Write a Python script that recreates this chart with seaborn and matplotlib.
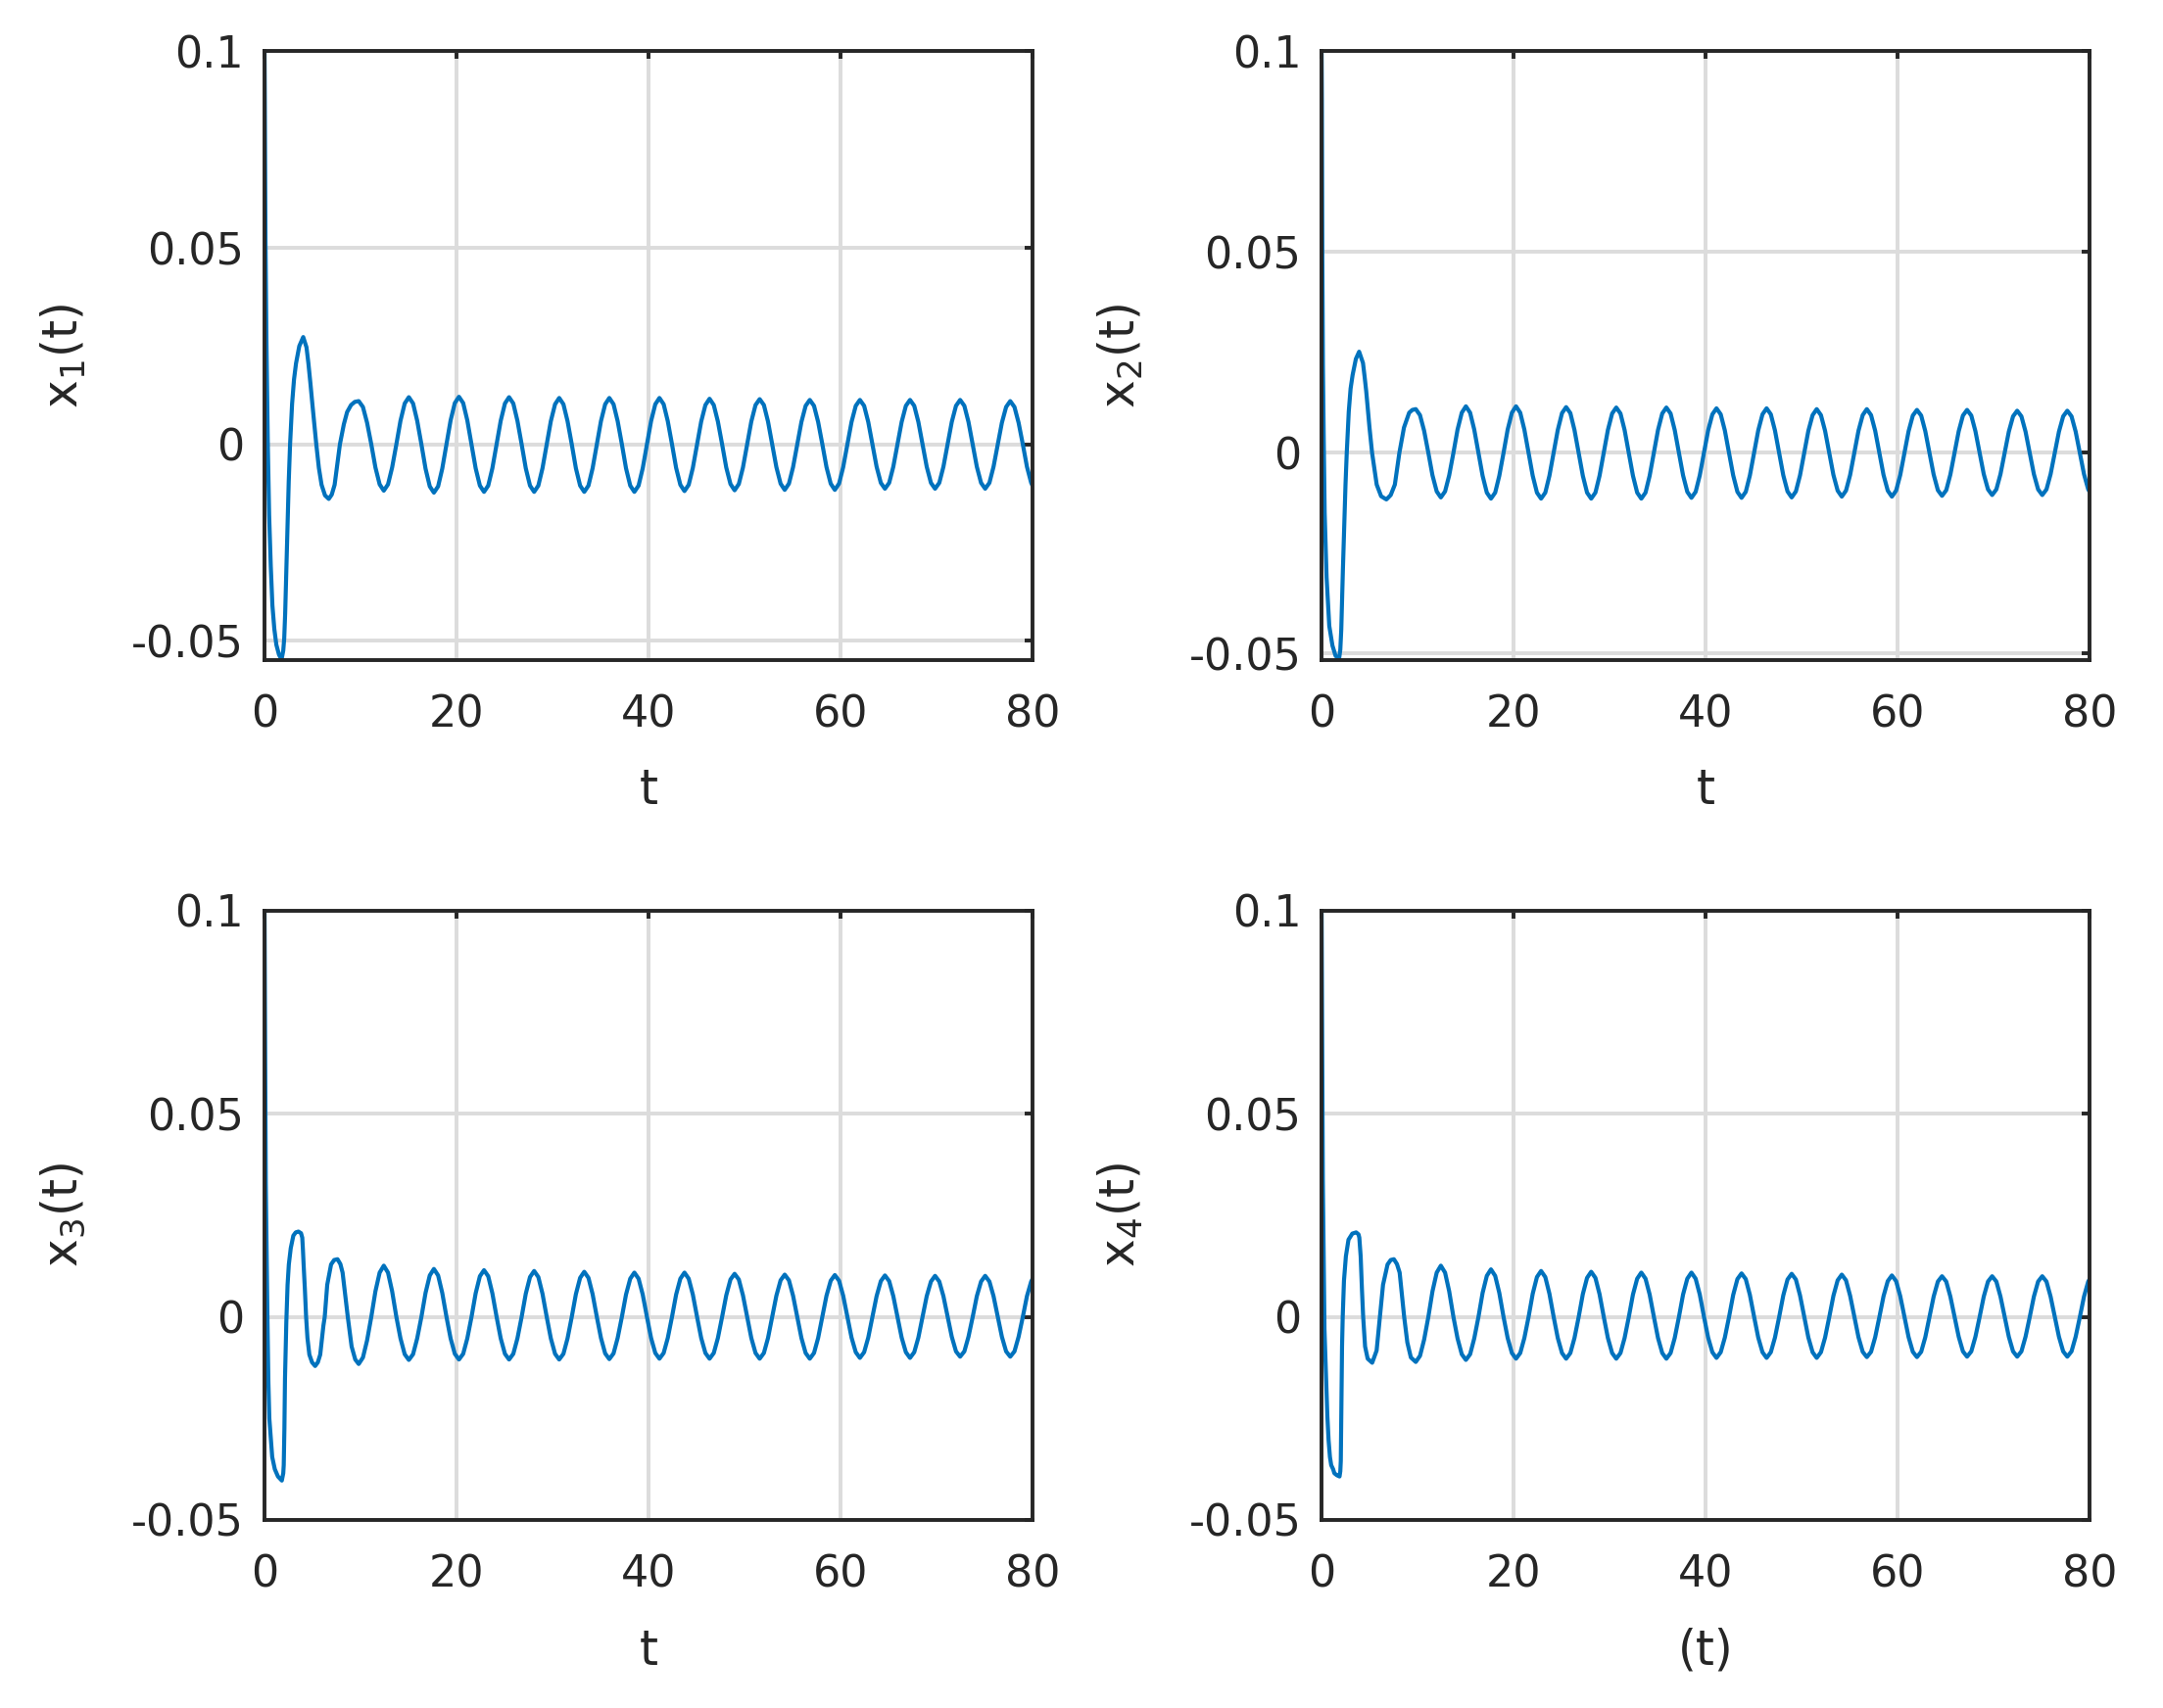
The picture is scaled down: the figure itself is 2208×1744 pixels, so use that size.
import pandas as pd
import seaborn as sns
import matplotlib
matplotlib.use('Agg')
import matplotlib.pyplot as plt

# start-up transient of each state (t, value)
t1_start = [0, 0.03, 0.10, 0.20, 0.34, 0.48, 0.65, 0.82, 1.02, 1.23, 1.50, 1.77, 1.95, 2.05,
            2.15, 2.27, 2.39, 2.52, 2.66, 2.87, 3.07, 3.28, 3.62, 4.03, 4.37, 4.57, 4.78, 4.98,
            5.39, 5.66, 5.94, 6.30, 6.69, 7.00, 7.30, 7.85, 8.26, 8.60, 9.01, 9.40]
x1_start = [0.1, 0.088, 0.052, 0.026, 0.0, -0.018, -0.031, -0.041, -0.047, -0.051, -0.0535,
            -0.0548, -0.0525, -0.0494, -0.0430, -0.032, -0.0206, -0.0095, 0.0, 0.0103, 0.0165,
            0.0206, 0.0250, 0.0273, 0.0247, 0.0206, 0.0155, 0.0103, 0.0, -0.0060, -0.0103,
            -0.0130, -0.0139, -0.0128, -0.0103, 0.0, 0.0051, 0.0082, 0.0100, 0.0108]

t2_start = [0, 0.03, 0.08, 0.14, 0.22, 0.32, 0.52, 0.80, 1.13, 1.45, 1.81, 1.95, 2.05, 2.22,
            2.37, 2.49, 2.62, 2.83, 3.02, 3.23, 3.57, 3.91, 4.31, 4.48, 4.65, 4.99, 5.26, 5.74,
            6.20, 6.75, 7.20, 7.63, 8.10, 8.58, 9.12, 9.45]
x2_start = [0.1, 0.088, 0.048, 0.022, 0.004, -0.0149, -0.031, -0.0431, -0.0480, -0.0505,
            -0.0515, -0.0490, -0.0440, -0.029, -0.017, -0.0079, 0.0, 0.0103, 0.0160, 0.0194,
            0.0234, 0.0252, 0.0224, 0.0190, 0.0153, 0.0063, 0.0, -0.0079, -0.0108, -0.0116,
            -0.0105, -0.0079, 0.0, 0.0063, 0.0100, 0.0107]

t3_start = [0, 0.03, 0.13, 0.22, 0.30, 0.40, 0.50, 0.67, 0.80, 1.07, 1.40, 1.80, 1.95, 2.00,
            2.07, 2.13, 2.27, 2.40, 2.53, 2.73, 3.00, 3.25, 3.53, 3.80, 3.93, 4.00, 4.07, 4.20,
            4.33, 4.47, 4.67, 4.95, 5.27, 5.55, 5.80, 6.13, 6.27, 6.53, 6.93, 7.25, 7.60, 7.90,
            8.13, 8.40, 8.67, 9.07, 9.45]
x3_start = [0.1, 0.085, 0.033, 0.015, 0.0, -0.016, -0.025, -0.0304, -0.0345, -0.0375, -0.0393,
            -0.0403, -0.0385, -0.0365, -0.0274, -0.0153, -0.0012, 0.0079, 0.0129, 0.0169, 0.0200,
            0.0208, 0.0210, 0.0206, 0.0195, 0.0165, 0.0129, 0.0069, 0.0, -0.0052, -0.0093,
            -0.0112, -0.0121, -0.0112, -0.0093, -0.0022, 0.0, 0.0079, 0.0129, 0.0140, 0.0142,
            0.0130, 0.0109, 0.0055, 0.0, -0.0073, -0.0105]

t4_start = [0, 0.03, 0.13, 0.23, 0.30, 0.43, 0.53, 0.60, 0.73, 0.87, 1.00, 1.20, 1.33, 1.60,
            1.87, 1.95, 2.00, 2.07, 2.13, 2.20, 2.33, 2.53, 2.80, 3.20, 3.60, 3.85, 3.93, 4.00,
            4.07, 4.20, 4.33, 4.53, 4.80, 5.27, 5.73, 6.07, 6.40, 6.87, 7.20, 7.53, 7.85, 8.13,
            8.60, 8.93, 9.30]
x4_start = [0.1, 0.085, 0.034, 0.012, -0.003, -0.0123, -0.0188, -0.0244, -0.0304, -0.0345,
            -0.0365, -0.0375, -0.0385, -0.0390, -0.0393, -0.0380, -0.0355, -0.0214, -0.0073, 0.0,
            0.0089, 0.0149, 0.0190, 0.0205, 0.0208, 0.0203, 0.0195, 0.0170, 0.0149, 0.0069, 0.0,
            -0.0073, -0.0103, -0.0113, -0.0083, 0.0, 0.0079, 0.0129, 0.0140, 0.0142, 0.0130,
            0.0109, 0.0, -0.0063, -0.0100]

# sustained oscillation after t ~ 9.8, sampled at the same times in every panel
t_osc = [9.81, 10.25, 10.68, 11.12, 11.55, 11.99, 12.42, 12.86, 13.29, 13.73, 14.16, 14.60,
         15.03, 15.47, 15.90, 16.34, 16.77, 17.21, 17.64, 18.08, 18.51, 18.95, 19.38, 19.82,
         20.25, 20.69, 21.12, 21.56, 21.99, 22.43, 22.86, 23.30, 23.73, 24.17, 24.60, 25.04,
         25.47, 25.91, 26.34, 26.78, 27.21, 27.65, 28.08, 28.52, 28.95, 29.39, 29.82, 30.26,
         30.69, 31.13, 31.56, 32.00, 32.43, 32.87, 33.30, 33.74, 34.17, 34.61, 35.04, 35.48,
         35.91, 36.35, 36.78, 37.22, 37.65, 38.09, 38.52, 38.96, 39.39, 39.83, 40.26, 40.70,
         41.13, 41.57, 42.00, 42.44, 42.87, 43.31, 43.74, 44.18, 44.61, 45.05, 45.48, 45.92,
         46.35, 46.79, 47.22, 47.66, 48.09, 48.53, 48.96, 49.40, 49.83, 50.27, 50.70, 51.14,
         51.57, 52.01, 52.44, 52.88, 53.31, 53.75, 54.18, 54.62, 55.05, 55.49, 55.92, 56.36,
         56.79, 57.23, 57.66, 58.10, 58.53, 58.97, 59.40, 59.84, 60.27, 60.71, 61.14, 61.58,
         62.01, 62.45, 62.88, 63.32, 63.75, 64.19, 64.62, 65.06, 65.49, 65.93, 66.36, 66.80,
         67.23, 67.67, 68.10, 68.54, 68.97, 69.41, 69.84, 70.28, 70.71, 71.15, 71.58, 72.02,
         72.45, 72.89, 73.32, 73.76, 74.19, 74.63, 75.06, 75.50, 75.93, 76.37, 76.80, 77.24,
         77.67, 78.11, 78.54, 78.98, 79.41, 79.85, 80.00]

x1_osc = [0.0110, 0.0095, 0.0055, 0.0, -0.0059, -0.0102, -0.0118, -0.0102, -0.0059, 0.0, 0.0060, 0.0104,
          0.0120, 0.0104, 0.0060, 0.0, -0.0062, -0.0107, -0.0123, -0.0107, -0.0062, 0.0, 0.0061, 0.0105,
          0.0121, 0.0105, 0.0061, 0.0, -0.0061, -0.0105, -0.0121, -0.0105, -0.0061, 0.0, 0.0060, 0.0104,
          0.0120, 0.0104, 0.0060, 0.0, -0.0061, -0.0105, -0.0121, -0.0105, -0.0061, 0.0, 0.0059, 0.0102,
          0.0118, 0.0102, 0.0059, 0.0, -0.0061, -0.0105, -0.0121, -0.0105, -0.0061, 0.0, 0.0059, 0.0102,
          0.0118, 0.0102, 0.0059, 0.0, -0.0061, -0.0105, -0.0121, -0.0105, -0.0061, 0.0, 0.0059, 0.0102,
          0.0118, 0.0102, 0.0059, 0.0, -0.0060, -0.0103, -0.0119, -0.0103, -0.0060, 0.0, 0.0058, 0.0100,
          0.0116, 0.0100, 0.0058, 0.0, -0.0059, -0.0101, -0.0117, -0.0101, -0.0059, 0.0, 0.0058, 0.0100,
          0.0115, 0.0100, 0.0058, 0.0, -0.0058, -0.0100, -0.0116, -0.0100, -0.0058, 0.0, 0.0057, 0.0098,
          0.0113, 0.0098, 0.0057, 0.0, -0.0058, -0.0100, -0.0116, -0.0100, -0.0058, 0.0, 0.0057, 0.0098,
          0.0113, 0.0098, 0.0057, 0.0, -0.0057, -0.0098, -0.0113, -0.0098, -0.0057, 0.0, 0.0057, 0.0098,
          0.0113, 0.0098, 0.0057, 0.0, -0.0057, -0.0098, -0.0113, -0.0098, -0.0057, 0.0, 0.0057, 0.0098,
          0.0113, 0.0098, 0.0057, 0.0, -0.0057, -0.0098, -0.0113, -0.0098, -0.0057, 0.0, 0.0055, 0.0095,
          0.0110, 0.0095, 0.0055, 0.0, -0.0057, -0.0098, -0.0106]

x2_osc = [0.0109, 0.0094, 0.0055, 0.0, -0.0056, -0.0096, -0.0111, -0.0096, -0.0056, 0.0, 0.0058, 0.0100,
          0.0116, 0.0100, 0.0058, 0.0, -0.0057, -0.0099, -0.0114, -0.0099, -0.0057, 0.0, 0.0058, 0.0100,
          0.0116, 0.0100, 0.0058, 0.0, -0.0057, -0.0099, -0.0114, -0.0099, -0.0057, 0.0, 0.0057, 0.0099,
          0.0114, 0.0099, 0.0057, 0.0, -0.0057, -0.0099, -0.0114, -0.0099, -0.0057, 0.0, 0.0057, 0.0098,
          0.0113, 0.0098, 0.0057, 0.0, -0.0057, -0.0099, -0.0114, -0.0099, -0.0057, 0.0, 0.0057, 0.0098,
          0.0113, 0.0098, 0.0057, 0.0, -0.0056, -0.0097, -0.0112, -0.0097, -0.0056, 0.0, 0.0056, 0.0096,
          0.0111, 0.0096, 0.0056, 0.0, -0.0056, -0.0097, -0.0112, -0.0097, -0.0056, 0.0, 0.0056, 0.0096,
          0.0111, 0.0096, 0.0056, 0.0, -0.0056, -0.0096, -0.0111, -0.0096, -0.0056, 0.0, 0.0055, 0.0094,
          0.0109, 0.0094, 0.0055, 0.0, -0.0055, -0.0094, -0.0109, -0.0094, -0.0055, 0.0, 0.0055, 0.0094,
          0.0109, 0.0094, 0.0055, 0.0, -0.0055, -0.0094, -0.0109, -0.0094, -0.0055, 0.0, 0.0054, 0.0093,
          0.0107, 0.0093, 0.0054, 0.0, -0.0054, -0.0093, -0.0107, -0.0093, -0.0054, 0.0, 0.0054, 0.0093,
          0.0107, 0.0093, 0.0054, 0.0, -0.0053, -0.0091, -0.0105, -0.0091, -0.0053, 0.0, 0.0053, 0.0091,
          0.0105, 0.0091, 0.0053, 0.0, -0.0053, -0.0091, -0.0105, -0.0091, -0.0053, 0.0, 0.0053, 0.0091,
          0.0105, 0.0091, 0.0053, 0.0, -0.0053, -0.0091, -0.0097]

x3_osc = [-0.0116, -0.0100, -0.0058, 0.0, 0.0063, 0.0109, 0.0126, 0.0109, 0.0063, 0.0, -0.0053, -0.0092,
          -0.0106, -0.0092, -0.0053, 0.0, 0.0059, 0.0102, 0.0118, 0.0102, 0.0059, 0.0, -0.0053, -0.0091,
          -0.0105, -0.0091, -0.0053, 0.0, 0.0058, 0.0100, 0.0115, 0.0100, 0.0058, 0.0, -0.0053, -0.0091,
          -0.0105, -0.0091, -0.0053, 0.0, 0.0057, 0.0098, 0.0113, 0.0098, 0.0057, 0.0, -0.0053, -0.0091,
          -0.0105, -0.0091, -0.0053, 0.0, 0.0056, 0.0096, 0.0111, 0.0096, 0.0056, 0.0, -0.0052, -0.0090,
          -0.0104, -0.0090, -0.0052, 0.0, 0.0055, 0.0094, 0.0109, 0.0094, 0.0055, 0.0, -0.0052, -0.0089,
          -0.0103, -0.0089, -0.0052, 0.0, 0.0055, 0.0094, 0.0109, 0.0094, 0.0055, 0.0, -0.0052, -0.0089,
          -0.0103, -0.0089, -0.0052, 0.0, 0.0053, 0.0092, 0.0106, 0.0092, 0.0053, 0.0, -0.0052, -0.0089,
          -0.0103, -0.0089, -0.0052, 0.0, 0.0052, 0.0090, 0.0104, 0.0090, 0.0052, 0.0, -0.0052, -0.0089,
          -0.0103, -0.0089, -0.0052, 0.0, 0.0052, 0.0089, 0.0103, 0.0089, 0.0052, 0.0, -0.0051, -0.0087,
          -0.0101, -0.0087, -0.0051, 0.0, 0.0051, 0.0088, 0.0102, 0.0088, 0.0051, 0.0, -0.0051, -0.0087,
          -0.0101, -0.0087, -0.0051, 0.0, 0.0051, 0.0087, 0.0101, 0.0087, 0.0051, 0.0, -0.0049, -0.0085,
          -0.0098, -0.0085, -0.0049, 0.0, 0.0051, 0.0087, 0.0101, 0.0087, 0.0051, 0.0, -0.0049, -0.0085,
          -0.0098, -0.0085, -0.0049, 0.0, 0.0051, 0.0087, 0.0094]

x4_osc = [-0.0111, -0.0096, -0.0056, 0.0, 0.0063, 0.0109, 0.0126, 0.0109, 0.0063, 0.0, -0.0053, -0.0092,
          -0.0106, -0.0092, -0.0053, 0.0, 0.0059, 0.0101, 0.0117, 0.0101, 0.0059, 0.0, -0.0052, -0.0089,
          -0.0103, -0.0089, -0.0052, 0.0, 0.0057, 0.0098, 0.0113, 0.0098, 0.0057, 0.0, -0.0052, -0.0089,
          -0.0103, -0.0089, -0.0052, 0.0, 0.0056, 0.0096, 0.0111, 0.0096, 0.0056, 0.0, -0.0052, -0.0089,
          -0.0103, -0.0089, -0.0052, 0.0, 0.0055, 0.0094, 0.0109, 0.0094, 0.0055, 0.0, -0.0052, -0.0089,
          -0.0103, -0.0089, -0.0052, 0.0, 0.0055, 0.0094, 0.0109, 0.0094, 0.0055, 0.0, -0.0051, -0.0087,
          -0.0101, -0.0087, -0.0051, 0.0, 0.0054, 0.0093, 0.0107, 0.0093, 0.0054, 0.0, -0.0051, -0.0087,
          -0.0101, -0.0087, -0.0051, 0.0, 0.0053, 0.0092, 0.0106, 0.0092, 0.0053, 0.0, -0.0051, -0.0087,
          -0.0101, -0.0087, -0.0051, 0.0, 0.0052, 0.0090, 0.0104, 0.0090, 0.0052, 0.0, -0.0050, -0.0086,
          -0.0099, -0.0086, -0.0050, 0.0, 0.0051, 0.0088, 0.0102, 0.0088, 0.0051, 0.0, -0.0050, -0.0086,
          -0.0099, -0.0086, -0.0050, 0.0, 0.0050, 0.0087, 0.0100, 0.0087, 0.0050, 0.0, -0.0049, -0.0085,
          -0.0098, -0.0085, -0.0049, 0.0, 0.0050, 0.0087, 0.0100, 0.0087, 0.0050, 0.0, -0.0049, -0.0085,
          -0.0098, -0.0085, -0.0049, 0.0, 0.0050, 0.0087, 0.0100, 0.0087, 0.0050, 0.0, -0.0049, -0.0085,
          -0.0098, -0.0085, -0.0049, 0.0, 0.0050, 0.0087, 0.0093]

ylabels = [r'x$_1$(t)', r'x$_2$(t)', r'x$_3$(t)', r'x$_4$(t)']
xlabels = ['t', 't', 't', '(t)']
xticks = [0, 20, 40, 60, 80]
yticks = [-0.05, 0, 0.05, 0.1]
ytick_labels = ['-0.05', '0', '0.05', '0.1']

#style, matlab-like
sns.set_theme(style='white')
plt.rcParams['font.family'] = ['DejaVu Sans']
plt.rcParams['mathtext.fontset'] = 'dejavusans'
dark = '#262626'
blue = '#0072bd'

fig = plt.figure(figsize=(11.04, 8.72), dpi=200)

starts = [(t1_start, x1_start), (t2_start, x2_start), (t3_start, x3_start), (t4_start, x4_start)]
osc = [x1_osc, x2_osc, x3_osc, x4_osc]
rects = [[0.1223, 0.6138, 0.3551, 0.3561], [0.6110, 0.6138, 0.3551, 0.3561],
         [0.1223, 0.1101, 0.3551, 0.3567], [0.6110, 0.1101, 0.3551, 0.3567]]

for i in range(4):
    ax = fig.add_axes(rects[i])
    df = pd.DataFrame({'t': starts[i][0] + t_osc, 'x': starts[i][1] + osc[i]})
    sns.lineplot(data=df, x='t', y='x', ax=ax, color=blue, linewidth=1.5,
                 estimator=None, sort=False)

    ax.set_xlim(0, 80)
    #top rows are drawn tight to the data minimum, bottom rows use -0.05
    if i < 2:
        ax.set_ylim(df['x'].min(), 0.1)
    else:
        ax.set_ylim(-0.05, 0.1)
    ax.set_xticks(xticks)
    ax.set_xticklabels([str(v) for v in xticks])
    ax.set_yticks(yticks)
    ax.set_yticklabels(ytick_labels)

    ax.grid(True, color='#dcdcdc', linewidth=1.4)
    ax.set_axisbelow(True)
    for s in ax.spines.values():
        s.set_visible(True)
        s.set_color(dark)
        s.set_linewidth(1.4)
    ax.tick_params(axis='both', direction='in', length=2.9, width=1.4, color=dark,
                   labelcolor=dark, labelsize=16, top=True, right=True)
    ax.tick_params(axis='x', pad=12.5)
    ax.tick_params(axis='y', pad=7.5)

    ax.set_xlabel(xlabels[i], fontsize=17.5, color=dark, va='center')
    ax.xaxis.set_label_coords(0.5, -0.215)
    ax.set_ylabel(ylabels[i], fontsize=17.5, color=dark, va='center')
    ax.yaxis.set_label_coords(-0.262, 0.5)

fig.savefig('out.png', dpi=200)
